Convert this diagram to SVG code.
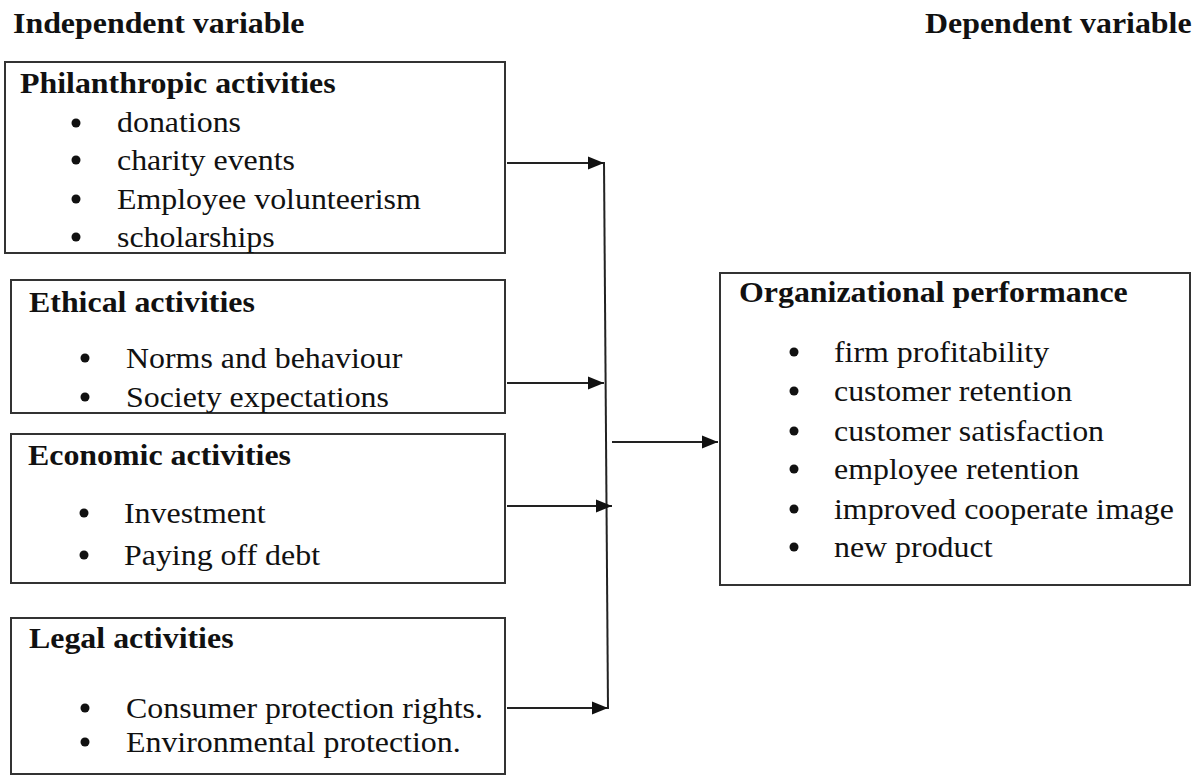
<svg xmlns="http://www.w3.org/2000/svg" width="1199" height="776" viewBox="0 0 1199 776">
  <style>
    text { font-family: "Liberation Serif", "Times New Roman", serif; font-size: 29px; fill: #111; }
    .h { font-weight: bold; }
    .box { fill: #fff; stroke: #333; stroke-width: 2; }
    .dot { fill: #111; }
    .wire { stroke: #222; stroke-width: 2; fill: none; }
  </style>
  <defs>
    <marker id="arrow" markerWidth="16" markerHeight="14" refX="16" refY="7" orient="auto" markerUnits="userSpaceOnUse">
      <path d="M0,0.5 L16,7 L0,13.5 Z" fill="#111"/>
    </marker>
  </defs>
  <rect width="1199" height="776" fill="#fff"/>

  <!-- column titles -->
  <g id="titles">
    <text class="h" transform="translate(13 33) scale(1.1 1)">Independent variable</text>
    <text class="h" transform="translate(925 33) scale(1.1 1)">Dependent variable</text>
  </g>

  <!-- independent variables -->
  <g id="philanthropic">
    <rect class="box" x="5" y="62" width="500" height="191"/>
    <text class="h" transform="translate(20 93) scale(1.1 1)">Philanthropic activities</text>
    <circle class="dot" cx="76" cy="123" r="4.5"/>
    <circle class="dot" cx="76" cy="160" r="4.5"/>
    <circle class="dot" cx="76" cy="199" r="4.5"/>
    <circle class="dot" cx="76" cy="237" r="4.5"/>
    <text transform="translate(117 132) scale(1.1 1)">donations</text>
    <text transform="translate(117 170) scale(1.1 1)">charity events</text>
    <text transform="translate(117 209) scale(1.1 1)">Employee volunteerism</text>
    <text transform="translate(117 247) scale(1.1 1)">scholarships</text>
  </g>

  <g id="ethical">
    <rect class="box" x="11" y="280" width="494" height="133"/>
    <text class="h" transform="translate(29 312) scale(1.1 1)">Ethical activities</text>
    <circle class="dot" cx="85" cy="358" r="4.5"/>
    <circle class="dot" cx="85" cy="397" r="4.5"/>
    <text transform="translate(126 368) scale(1.1 1)">Norms and behaviour</text>
    <text transform="translate(126 407) scale(1.1 1)">Society expectations</text>
  </g>

  <g id="economic">
    <rect class="box" x="11" y="434" width="494" height="149"/>
    <text class="h" transform="translate(28 465) scale(1.1 1)">Economic activities</text>
    <circle class="dot" cx="84" cy="513" r="4.5"/>
    <circle class="dot" cx="84" cy="555" r="4.5"/>
    <text transform="translate(124 523) scale(1.1 1)">Investment</text>
    <text transform="translate(124 565) scale(1.1 1)">Paying off debt</text>
  </g>

  <g id="legal">
    <rect class="box" x="11" y="618" width="494" height="156"/>
    <text class="h" transform="translate(29 648) scale(1.1 1)">Legal activities</text>
    <circle class="dot" cx="85" cy="708" r="4.5"/>
    <circle class="dot" cx="85" cy="742" r="4.5"/>
    <text transform="translate(126 718) scale(1.1 1)">Consumer protection rights.</text>
    <text transform="translate(126 752) scale(1.1 1)">Environmental protection.</text>
  </g>

  <!-- dependent variable -->
  <g id="performance">
    <rect class="box" x="720" y="273" width="470" height="312"/>
    <text class="h" transform="translate(739 302) scale(1.1 1)">Organizational performance</text>
    <circle class="dot" cx="794" cy="352" r="4.5"/>
    <circle class="dot" cx="794" cy="391" r="4.5"/>
    <circle class="dot" cx="794" cy="431" r="4.5"/>
    <circle class="dot" cx="794" cy="469" r="4.5"/>
    <circle class="dot" cx="794" cy="509" r="4.5"/>
    <circle class="dot" cx="794" cy="547" r="4.5"/>
    <text transform="translate(834 362) scale(1.1 1)">firm profitability</text>
    <text transform="translate(834 401) scale(1.1 1)">customer retention</text>
    <text transform="translate(834 441) scale(1.1 1)">customer satisfaction</text>
    <text transform="translate(834 479) scale(1.1 1)">employee retention</text>
    <text transform="translate(834 519) scale(1.1 1)">improved cooperate image</text>
    <text transform="translate(834 557) scale(1.1 1)">new product</text>
  </g>

  <!-- connectors: four inputs join a vertical bus, which feeds the outcome box -->
  <g id="connectors">
    <line class="wire" x1="604" y1="162" x2="608" y2="709"/>
    <line class="wire" x1="507" y1="163" x2="604" y2="163" marker-end="url(#arrow)"/>
    <line class="wire" x1="507" y1="383" x2="604" y2="383" marker-end="url(#arrow)"/>
    <line class="wire" x1="507" y1="506" x2="612" y2="506" marker-end="url(#arrow)"/>
    <line class="wire" x1="507" y1="708" x2="608" y2="708" marker-end="url(#arrow)"/>
    <line class="wire" x1="612" y1="442" x2="718" y2="442" marker-end="url(#arrow)"/>
  </g>
</svg>
